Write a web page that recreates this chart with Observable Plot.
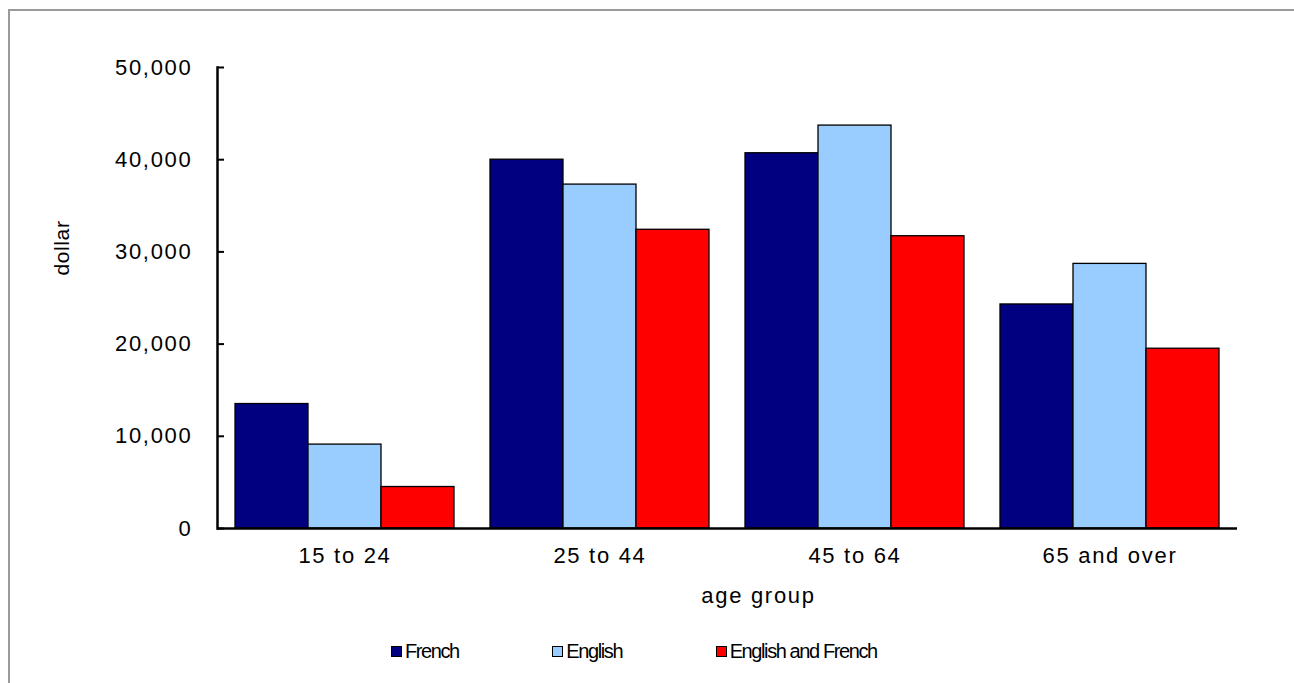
<!DOCTYPE html>
<html>
<head>
<meta charset="utf-8">
<script src="https://cdn.jsdelivr.net/npm/d3@7"></script>
<script src="https://cdn.jsdelivr.net/npm/@observablehq/plot@0.6"></script>
<style>
  html, body { margin: 0; background: #fff; width: 1294px; height: 683px; overflow: hidden; }
  .panel { position: absolute; left: 8px; top: 9px; width: 1290px; height: 680px;
           border-left: 2px solid #9a9a9a; border-top: 2px solid #9a9a9a; }
  #chart { position: absolute; left: 0; top: 0; }
  #chart svg text { letter-spacing: 1.7px; }
  .legend { position: absolute; top: 640px; left: 391px; display: flex; gap: 93.5px;
            font: 20px "Liberation Sans", Arial, sans-serif; letter-spacing: -1.4px; color: #000; }
  .legend .item { display: flex; align-items: center; white-space: nowrap; }
  .legend .sw { width: 9px; height: 9px; border: 1px solid #000; margin-right: 3px; }
</style>
</head>
<body>
<div class="panel"></div>
<div id="chart"></div>
<div class="legend" id="legend"></div>
<script>
// Median income by age group and official language spoken
const groups = ["15 to 24", "25 to 44", "45 to 64", "65 and over"];
const series = ["French", "English", "English and French"];
const french = [13500, 40000, 40700, 24300];
const english = [9100, 37300, 43700, 28700];
const englishAndFrench = [4500, 32400, 31700, 19500];
const yTicks = [0, 10000, 20000, 30000, 40000, 50000];
const colors = ["#000080", "#99ccff", "#ff0000"];

const seriesValues = [french, english, englishAndFrench];
const rows = series.flatMap((s, j) =>
  groups.map((g, i) => ({group: g, series: s, value: seriesValues[j][i]}))
);

const chart = Plot.plot({
  width: 1294,
  height: 610,
  marginLeft: 215,
  marginRight: 56,
  marginTop: 67,
  marginBottom: 82,
  style: {
    fontFamily: '"Liberation Sans", Arial, sans-serif',
    fontSize: "22px",
    color: "#000",
    background: "transparent",
    overflow: "visible"
  },
  fx: {domain: groups, padding: 0},
  x: {domain: series, paddingInner: 0, paddingOuter: 0.242, axis: null},
  y: {domain: [0, 50000]},
  color: {domain: series, range: colors},
  marks: [
    Plot.barY(rows, {fx: "group", x: "series", y: "value", fill: "series", stroke: "#000", strokeWidth: 1.3}),
    Plot.ruleY([0], {stroke: "#000", strokeWidth: 2.5}),
    Plot.frame({anchor: "left", facetAnchor: "left", stroke: "#000", strokeWidth: 2.5}),
    Plot.axisY(yTicks, {tickFormat: d3.format(","), tickSize: -7, tickPadding: 32, strokeWidth: 2, label: null, fontSize: 22}),
    Plot.axisFx({anchor: "bottom", tickSize: 0, tickPadding: 19, label: null, fontSize: 22}),
    Plot.text(["age group"], {frameAnchor: "bottom", facet: "super", dx: 31, dy: 74, lineAnchor: "bottom", fontSize: 22}),
    Plot.text(["dollar"], {frameAnchor: "left", facetAnchor: "left", textAnchor: "middle", rotate: -90, dx: -155, dy: -50, fontSize: 21})
  ]
});

document.getElementById("chart").append(chart);
d3.select(chart).selectAll("text").filter(function () { return this.textContent === "dollar"; })
  .style("letter-spacing", "0.6px");

// Legend
const legend = d3.select("#legend");
series.forEach((s, i) => {
  const item = legend.append("div").attr("class", "item");
  item.append("div").attr("class", "sw").style("background", colors[i]);
  item.append("span").text(s);
});
</script>
</body>
</html>
